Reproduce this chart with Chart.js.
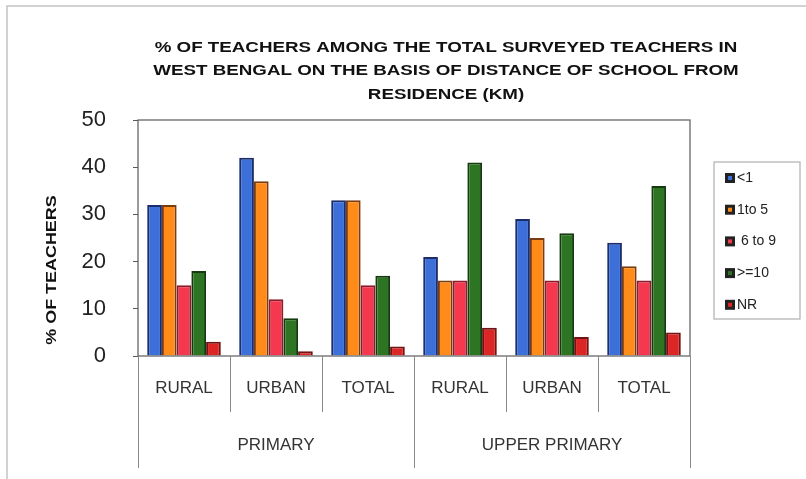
<!DOCTYPE html>
<html>
<head>
<meta charset="utf-8">
<script src="https://cdn.jsdelivr.net/npm/chart.js@4"></script>
<style>
  html, body { margin: 0; padding: 0; background: #fff; }
  #wrap { position: relative; width: 806px; height: 479px; }
</style>
</head>
<body>
<div id="wrap"><canvas id="chart" width="806" height="479"></canvas></div>
<script>
// categories and groups
const categories = ['RURAL', 'URBAN', 'TOTAL', 'RURAL', 'URBAN', 'TOTAL'];
const groups = ['PRIMARY', 'UPPER PRIMARY'];
const groupSizes = [3, 3];
const titleLines = [
    '% OF TEACHERS AMONG THE TOTAL SURVEYED TEACHERS IN',
    'WEST BENGAL ON THE BASIS OF DISTANCE OF SCHOOL FROM',
    'RESIDENCE (KM)'
];
const yTitle = '% OF TEACHERS';

// series values (% of teachers)
const lessThan1 = [32, 42, 33, 21, 29, 24];
const oneTo5 = [32, 37, 33, 16, 25, 19];
const sixTo9 = [15, 12, 15, 16, 16, 16];
const tenPlus = [18, 8, 17, 41, 26, 36];
const noResponse = [3, 1, 2, 6, 4, 5];

const seriesLabels = ['<1', '1to 5', ' 6 to 9', '>=10', 'NR'];
const yTicks = [0, 10, 20, 30, 40, 50];

const FONT = '"Liberation Sans", Arial, sans-serif';
const STRETCH = 1.34; // title text is drawn wide in the original

const fills = ['#3d6fd8', '#ff8c1a', '#f5384e', '#2d7522', '#dc2626'];
const edges = ['#1c2d6a', '#7a3d12', '#8c1c2c', '#153a10', '#6e1414'];

const makeSet = (i, data) => ({
    label: seriesLabels[i],
    data: data,
    backgroundColor: fills[i],
    borderColor: edges[i],
    borderWidth: 2,
    categoryPercentage: 0.8,
    barPercentage: 1.0
});

// frame, titles, group axis and legend
const decor = {
    id: 'decor',
    beforeDraw(chart) {
        const ctx = chart.ctx;
        ctx.save();
        ctx.fillStyle = '#fff';
        ctx.fillRect(0, 0, chart.width, chart.height);
        ctx.strokeStyle = '#c4c4c4';
        ctx.lineWidth = 1.5;
        ctx.strokeRect(7, 6, 820, 500);
        ctx.restore();
    },
    afterDraw(chart) {
        const ctx = chart.ctx;
        const area = chart.chartArea;
        const xs = chart.scales.x;
        ctx.save();

        // plot area border
        ctx.strokeStyle = '#5a5a5a';
        ctx.lineWidth = 1.2;
        ctx.strokeRect(area.left, area.top, area.right - area.left, area.bottom - area.top);

        // category separators and group labels
        const half = (xs.getPixelForValue(1) - xs.getPixelForValue(0)) / 2;
        ctx.strokeStyle = '#8a8a8a';
        ctx.lineWidth = 1;
        const groupEdges = [0];
        groupSizes.forEach((n, i) => groupEdges.push(groupEdges[i] + n));
        for (let i = 0; i <= categories.length; i++) {
            const x = Math.round(xs.getPixelForValue(i) - half) + 0.5;
            const isGroupEdge = groupEdges.includes(i);
            ctx.beginPath();
            ctx.moveTo(x, area.bottom);
            ctx.lineTo(x, isGroupEdge ? 468 : 412);
            ctx.stroke();
        }
        ctx.fillStyle = '#333';
        ctx.font = '17px ' + FONT;
        ctx.textAlign = 'center';
        ctx.textBaseline = 'middle';
        groups.forEach((g, i) => {
            const a = xs.getPixelForValue(groupEdges[i]) - half;
            const b = xs.getPixelForValue(groupEdges[i + 1]) - half;
            ctx.fillText(g, (a + b) / 2, 445);
        });

        // chart title
        ctx.fillStyle = '#111';
        ctx.font = 'bold 14px ' + FONT;
        titleLines.forEach((line, i) => {
            ctx.save();
            ctx.translate(446, 48 + i * 23.5);
            ctx.scale(STRETCH, 1);
            ctx.fillText(line, 0, 0);
            ctx.restore();
        });

        // y axis title
        ctx.save();
        ctx.translate(52, 270);
        ctx.rotate(-Math.PI / 2);
        ctx.scale(1.28, 1);
        ctx.fillText(yTitle, 0, 0);
        ctx.restore();

        // legend
        ctx.strokeStyle = '#b0b0b0';
        ctx.lineWidth = 1.2;
        ctx.strokeRect(714, 162, 86, 157);
        ctx.font = '14px ' + FONT;
        ctx.textAlign = 'left';
        chart.data.datasets.forEach((ds, i) => {
            const y = 178 + i * 31.7;
            ctx.fillStyle = '#222';
            ctx.fillRect(725, y - 5, 10, 10);
            ctx.fillStyle = ds.backgroundColor;
            ctx.fillRect(728, y - 2, 4, 4);
            ctx.fillStyle = '#222';
            ctx.fillText(ds.label, 737, y);
        });

        ctx.restore();
    }
};

const ctx = document.getElementById('chart').getContext('2d');
new Chart(ctx, {
    type: 'bar',
    data: {
        labels: categories,
        datasets: [
            makeSet(0, lessThan1),
            makeSet(1, oneTo5),
            makeSet(2, sixTo9),
            makeSet(3, tenPlus),
            makeSet(4, noResponse)
        ]
    },
    options: {
        responsive: false,
        animation: false,
        layout: {
            padding: { left: 0, top: 120, right: 116, bottom: 0 }
        },
        plugins: {
            legend: { display: false },
            title: { display: false },
            tooltip: { enabled: false }
        },
        scales: {
            x: {
                grid: { display: false, drawTicks: false },
                border: { display: false },
                ticks: {
                    color: '#333',
                    font: { family: FONT, size: 17 },
                    padding: 22,
                    maxRotation: 0
                },
                afterFit: (s) => { s.height = 123; }
            },
            y: {
                min: 0,
                max: 50,
                afterBuildTicks: (s) => { s.ticks = yTicks.map(v => ({ value: v })); },
                grid: { drawOnChartArea: false, tickLength: 5, color: '#5a5a5a' },
                border: { display: false },
                ticks: {
                    color: '#222',
                    font: { family: FONT, size: 22 },
                    padding: 27
                },
                afterFit: (s) => { s.width = 138; }
            }
        }
    },
    plugins: [decor]
});
</script>
</body>
</html>
